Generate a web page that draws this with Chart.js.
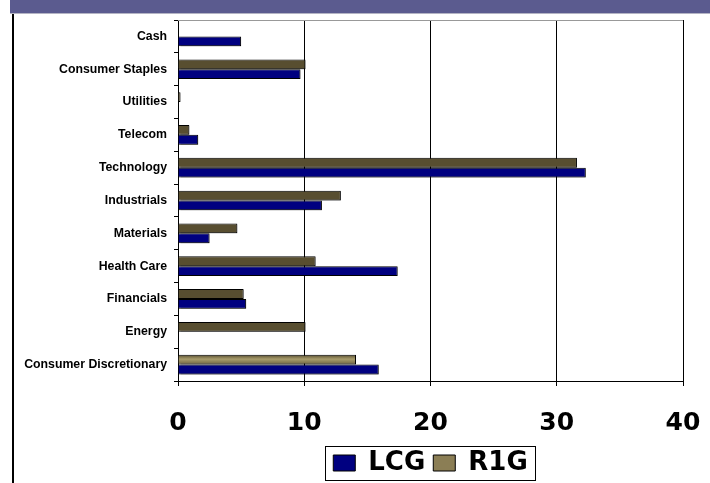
<!DOCTYPE html>
<html>
<head>
<meta charset="utf-8">
<script src="https://cdn.jsdelivr.net/npm/chart.js@4.4.1/dist/chart.umd.min.js"></script>
<style>
  html, body { margin: 0; padding: 0; background: #fff; }
  #wrap { width: 710px; height: 483px; position: relative; }
</style>
</head>
<body>
<div id="wrap"><canvas id="chart" width="710" height="483"></canvas></div>
<script>
// sector weights, top to bottom as in the picture
const sectors = [
  "Cash", "Consumer Staples", "Utilities", "Telecom", "Technology",
  "Industrials", "Materials", "Health Care", "Financials", "Energy",
  "Consumer Discretionary"
];
const lcgWeights = [5.0, 9.7, 0, 1.6, 32.3, 11.4, 2.5, 17.4, 5.4, 0, 15.9];
const r1gWeights = [0, 10.1, 0.2, 0.9, 31.6, 12.9, 4.7, 10.9, 5.2, 10.1, 14.1];
const xTicks = [0, 10, 20, 30, 40];

const LABEL_FONT = "'Liberation Sans', Arial, sans-serif";
const BIG_FONT = "'DejaVu Sans', Verdana, sans-serif";

// banner on top, black rule on the left, thin line on top of plot, box round legend
const frame = {
  id: "frame",
  beforeDraw(chart) {
    const c = chart.ctx;
    c.save();
    c.fillStyle = "#5b5b8f";
    c.fillRect(10, 0, 700, 13);
    c.fillStyle = "#b4b4c4";
    c.fillRect(10, 13, 700, 1);
    c.fillStyle = "#000";
    c.fillRect(12, 14, 2, 469);
    c.restore();
  },
  beforeDatasetsDraw(chart) {
    const c = chart.ctx;
    // olive bars get the shaded look
    chart.getDatasetMeta(0).data.forEach((bar) => {
      const top = bar.y - bar.height / 2;
      const g = c.createLinearGradient(0, top, 0, top + bar.height);
      g.addColorStop(0, "#584e30");
      g.addColorStop(0.45, "#a89c6c");
      g.addColorStop(1, "#6e6340");
      bar.options.backgroundColor = g;
    });
    // soft drop shadow like the original
    c.save();
    c.shadowColor = "rgba(0,0,0,0.3)";
    c.shadowOffsetX = 2;
    c.shadowOffsetY = 1;
    c.shadowBlur = 0;
  },
  afterDatasetsDraw(chart) {
    chart.ctx.restore();
  },
  afterDraw(chart) {
    const c = chart.ctx;
    const a = chart.chartArea;
    c.save();
    c.strokeStyle = "#999";
    c.lineWidth = 1;
    c.beginPath();
    c.moveTo(a.left, a.top + 0.5);
    c.lineTo(a.right, a.top + 0.5);
    c.stroke();

    const boxes = chart.legend.legendHitBoxes;
    if (boxes && boxes.length) {
      const l = Math.min(...boxes.map((b) => b.left)) - 8;
      const r = Math.max(...boxes.map((b) => b.left + b.width)) + 8;
      const t = Math.min(...boxes.map((b) => b.top)) - 4;
      c.strokeStyle = "#000";
      c.strokeRect(Math.round(l) + 0.5, Math.round(t) + 0.5, Math.round(r - l), 34);
    }
    c.restore();
  }
};

new Chart(document.getElementById("chart"), {
  type: "bar",
  data: {
    labels: sectors,
    datasets: [
      {
        label: "R1G",
        data: r1gWeights,
        backgroundColor: "#8b7e55",
        borderColor: "#000",
        borderWidth: 1,
        categoryPercentage: 0.6,
        barPercentage: 1.0
      },
      {
        label: "LCG",
        data: lcgWeights,
        backgroundColor: "#000080",
        borderColor: "#000",
        borderWidth: 1,
        categoryPercentage: 0.6,
        barPercentage: 1.0
      }
    ]
  },
  options: {
    indexAxis: "y",
    responsive: false,
    animation: false,
    layout: { padding: { top: 20, right: 27, left: 0, bottom: -3 } },
    plugins: {
      tooltip: { enabled: false },
      legend: {
        position: "bottom",
        fullSize: false,
        reverse: true,
        labels: {
          color: "#000",
          font: { family: BIG_FONT, size: 26, weight: "bold" },
          boxWidth: 22,
          boxHeight: 16,
          padding: 8,
          useBorderRadius: false
        }
      }
    },
    scales: {
      x: {
        min: 0,
        max: 40,
        afterBuildTicks(scale) {
          scale.ticks = xTicks.map((v) => ({ value: v }));
        },
        afterFit(scale) {
          scale.height = 61;
          scale.paddingLeft = 0;
          scale.paddingRight = 0;
        },
        grid: { color: "#000", lineWidth: 1, tickLength: 5 },
        border: { color: "#000", width: 1 },
        ticks: {
          color: "#000",
          padding: 22,
          font: { family: BIG_FONT, size: 25, weight: "bold" }
        }
      },
      y: {
        afterFit(scale) {
          scale.width = 178;
        },
        grid: { drawOnChartArea: false, color: "#000", tickLength: 4, offset: true },
        border: { color: "#000", width: 1 },
        ticks: {
          color: "#000",
          padding: 7,
          font: { family: LABEL_FONT, size: 12.3, weight: "bold" }
        }
      }
    }
  },
  plugins: [frame]
});
</script>
</body>
</html>
